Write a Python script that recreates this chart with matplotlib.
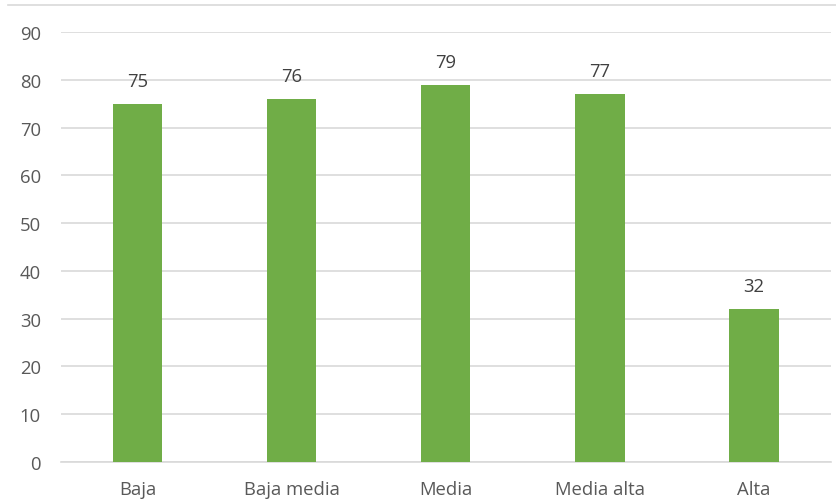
import numpy as np
import matplotlib.pyplot as plt
from matplotlib.lines import Line2D

categories = ["Baja", "Baja media", "Media", "Media alta", "Alta"]
values = [75, 76, 79, 77, 32]
yticks = [0, 10, 20, 30, 40, 50, 60, 70, 80, 90]

plt.rcParams["font.family"] = ["Open Sans", "DejaVu Sans"]
text_color = "#595959"

fig = plt.figure(figsize=(8.36, 5.02), dpi=100)
ax = fig.add_axes([60.5 / 836, 1 - 463 / 502, (831 - 60.5) / 836, (463 - 33) / 502])

x = np.arange(len(categories))
bars = ax.bar(x, values, width=0.32, color="#70AD47", zorder=3)

for rect, v in zip(bars, values):
    ax.annotate(str(v), (rect.get_x() + rect.get_width() / 2, v),
                xytext=(0, 10), textcoords="offset points",
                ha="center", va="bottom", fontsize=13.3, color="#404040")

ax.set_xlim(-0.5, len(categories) - 0.5)
ax.set_ylim(0, 90)
ax.set_yticks(yticks)
ax.set_xticks(x)
ax.set_xticklabels(categories)
ax.yaxis.grid(True, color="#D9D9D9", linewidth=1.2, zorder=0)
ax.tick_params(axis="both", length=0, labelsize=13.3, colors=text_color)
ax.tick_params(axis="y", pad=14)
ax.tick_params(axis="x", pad=13)
for side in ["top", "right", "left"]:
    ax.spines[side].set_visible(False)
ax.spines["bottom"].set_color("#D9D9D9")
ax.spines["bottom"].set_linewidth(1.2)

# thin frame line along the top edge
fig.add_artist(Line2D([8 / 836, 1], [1 - 6 / 502, 1 - 6 / 502],
                      color="#D9D9D9", linewidth=1.2))

fig.savefig("out.png", dpi=100)
